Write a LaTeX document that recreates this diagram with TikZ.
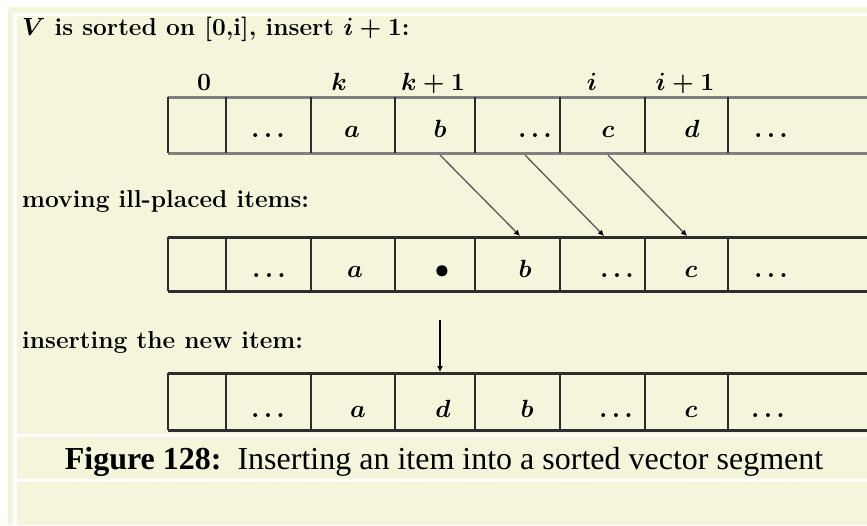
\documentclass[tikz,border=0pt]{standalone}
\usepackage{fontspec}
\usepackage{amsmath}
\newfontfamily\captionserif{Liberation Serif}
\usetikzlibrary{arrows.meta,positioning}
\definecolor{pageBeige}{RGB}{245,245,220}
\definecolor{rowGray}{RGB}{128,128,128}
\definecolor{cellDark}{RGB}{45,45,45}
\newcommand{\VecRow}[2]{%
  \draw[rowline] (168,#1) -- (870,#1) (168,#2) -- (870,#2);
  \foreach \cx in {168,226,311,395,475,560,645,728}
    \draw[cellline] (\cx,#1) -- (\cx,#2);}

\begin{document}
\begin{tikzpicture}[x=1pt,y=-1pt,
  cellline/.style={draw=cellDark,line width=2.4pt},
  rowline/.style={draw=cellDark,line width=3pt},
  entry/.style={anchor=base,inner sep=0pt,font=\fontsize{24.5}{28}\selectfont\bfseries\boldmath},
  heading/.style={anchor=base west,inner sep=0pt,font=\fontsize{24.5}{28}\selectfont\bfseries\boldmath},
  shift arrow/.style={draw=rowGray!70!black,line width=1.3pt,-{Latex[length=6pt,width=6pt,color=black]}}]
\useasboundingbox (0,0) rectangle (867,525);
% page and table cells
\fill[white] (0,0) rectangle (867,525);
\fill[pageBeige] (8,7) rectangle (867,525);
\fill[white] (13,13) rectangle (867,525);
\fill[pageBeige] (17,16) rectangle (867,434);
\fill[pageBeige] (17,437) rectangle (867,479);
\fill[pageBeige] (17,482) rectangle (867,525);
\begin{scope}
\clip (17,16) rectangle (867,434);
% row 1: V sorted on [0,i]
\node[heading] (title) at (22,35) {$V$ is sorted on [0,i], insert $i+1$:};
\node[entry] (idx0) at (204,90) {$0$};
\node[entry] (idxk) at (339,90) {$k$};
\node[entry] (idxk1) at (433,90) {$k+1$};
\node[entry] (idxi) at (592,90) {$i$};
\node[entry] (idxi1) at (685,90) {$i+1$};
\draw[rowline,draw=rowGray] (168,97) -- (870,97) (168,153) -- (870,153);
\foreach \cx in {168,226,311,395,475,560,645,728}
  \draw[cellline] (\cx,97) -- (\cx,153);
\node[entry] (oldDots) at (268,137) {$\ldots$};
\node[entry] (oldA) at (352,137) {$a$};
\node[entry] (oldB) at (440,137) {$b$};
\node[entry] (oldMid) at (535,137) {$\ldots$};
\node[entry] (oldC) at (608,137) {$c$};
\node[entry] (oldD) at (692,137) {$d$};
\node[entry] (oldEnd) at (771,137) {$\ldots$};
% row 2: shifted
\node[heading] (moving) at (22,207) {moving ill-placed items:};
\VecRow{237}{291}
\node[entry] (movDots) at (269,277) {$\ldots$};
\node[entry] (movA) at (355,277) {$a$};
\node[entry] (movGap) at (442,277) {$\bullet$};
\node[entry] (movB) at (525,277) {$b$};
\node[entry] (movMid) at (617,277) {$\ldots$};
\node[entry] (movC) at (691,277) {$c$};
\node[entry] (movEnd) at (771,277) {$\ldots$};
\coordinate (fromB) at (440,155);
\coordinate (fromMid) at (525,155);
\coordinate (fromC) at (608,155);
\coordinate (toB) at (520,236);
\coordinate (toMid) at (604,236);
\coordinate (toC) at (687,236);
\draw[shift arrow] (fromB) -- (toB);
\draw[shift arrow] (fromMid) -- (toMid);
\draw[shift arrow] (fromC) -- (toC);
% row 3: inserted
\node[heading] (inserting) at (22,348) {inserting the new item:};
\VecRow{373}{430}
\node[entry] (newDots) at (268,417) {$\ldots$};
\node[entry] (newA) at (358,417) {$a$};
\node[entry] (newD) at (443,417) {$d$};
\node[entry] (newB) at (527,417) {$b$};
\node[entry] (newMid) at (616,417) {$\ldots$};
\node[entry] (newC) at (691,417) {$c$};
\node[entry] (newEnd) at (768,417) {$\ldots$};
\coordinate (dropTop) at (440,320);
\coordinate (dropEnd) at (440,372);
\draw[shift arrow,draw=black] (dropTop) -- (dropEnd);
\end{scope}
% caption
\node[anchor=base,inner sep=0pt,font=\captionserif\fontsize{32}{36}\selectfont] (caption) at (444,469)
  {\textbf{Figure 128:}\ \ Inserting an item into a sorted vector segment};
\end{tikzpicture}
\end{document}
